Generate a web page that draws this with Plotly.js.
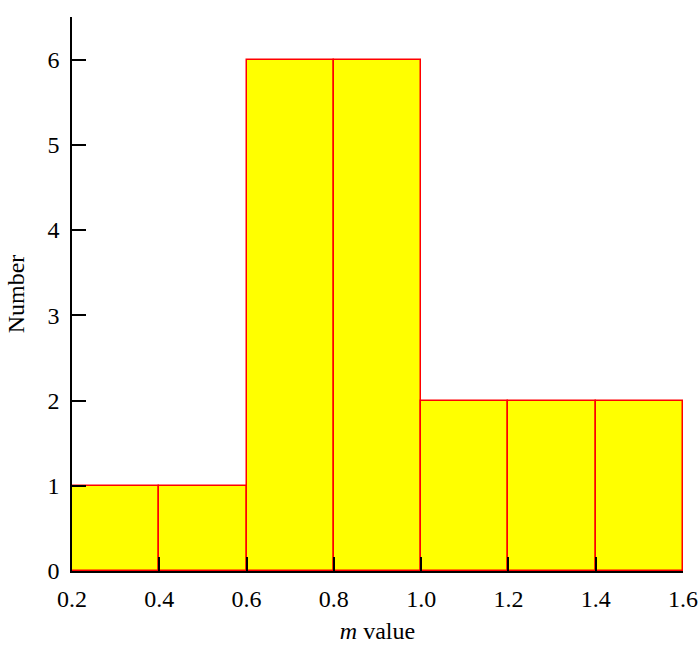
<!DOCTYPE html>
<html>
<head>
<meta charset="utf-8">
<script src="https://cdn.plot.ly/plotly-3.0.1.min.js"></script>
<style>
  body { margin: 0; background: #fff; }
  #chart { width: 700px; height: 654px; }
</style>
</head>
<body>
<div id="chart"></div>
<script>
// bin left edges and the count in each bin
const binStarts = [0.2, 0.4, 0.6, 0.8, 1.0, 1.2, 1.4]
const counts = [1, 1, 6, 6, 2, 2, 2]
const binWidth = 0.2
const xTicks = [0.2, 0.4, 0.6, 0.8, 1.0, 1.2, 1.4, 1.6]

const serif = 'Liberation Serif, Times New Roman, serif'

const trace = {
  type: 'bar',
  x: binStarts,
  y: counts,
  width: binStarts.map(() => binWidth),
  offset: 0,
  marker: {
    color: '#ffff00',
    line: { color: '#ff0000', width: 1.5 }
  },
  hoverinfo: 'x+y'
}

const axisCommon = {
  showgrid: false,
  zeroline: false,
  showline: true,
  linecolor: '#000',
  linewidth: 1.5,
  ticks: 'inside',
  ticklen: 14,
  tickwidth: 1.5,
  tickcolor: '#000',
  layer: 'above traces',
  ticklabeloverflow: 'allow',
  tickfont: { family: serif, size: 24, color: '#000' }
}

const layout = {
  width: 700,
  height: 654,
  margin: { l: 72, r: 17, t: 17, b: 83 },
  paper_bgcolor: '#fff',
  plot_bgcolor: '#fff',
  showlegend: false,
  bargap: 0,
  xaxis: Object.assign({}, axisCommon, {
    range: [0.2, 1.6000001],
    tickvals: xTicks,
    tickformat: '.1f',
    ticklabelstandoff: 5,
    title: { text: '<i>m</i> value', font: { family: serif, size: 24, color: '#000' }, standoff: 12 }
  }),
  yaxis: Object.assign({}, axisCommon, {
    range: [0, 6.5],
    tick0: 0,
    dtick: 1,
    ticklabelstandoff: 6,
    title: { text: 'Number', font: { family: serif, size: 24, color: '#000' }, standoff: 16 }
  })
}

Plotly.newPlot('chart', [trace], layout, { displayModeBar: false })
</script>
</body>
</html>
